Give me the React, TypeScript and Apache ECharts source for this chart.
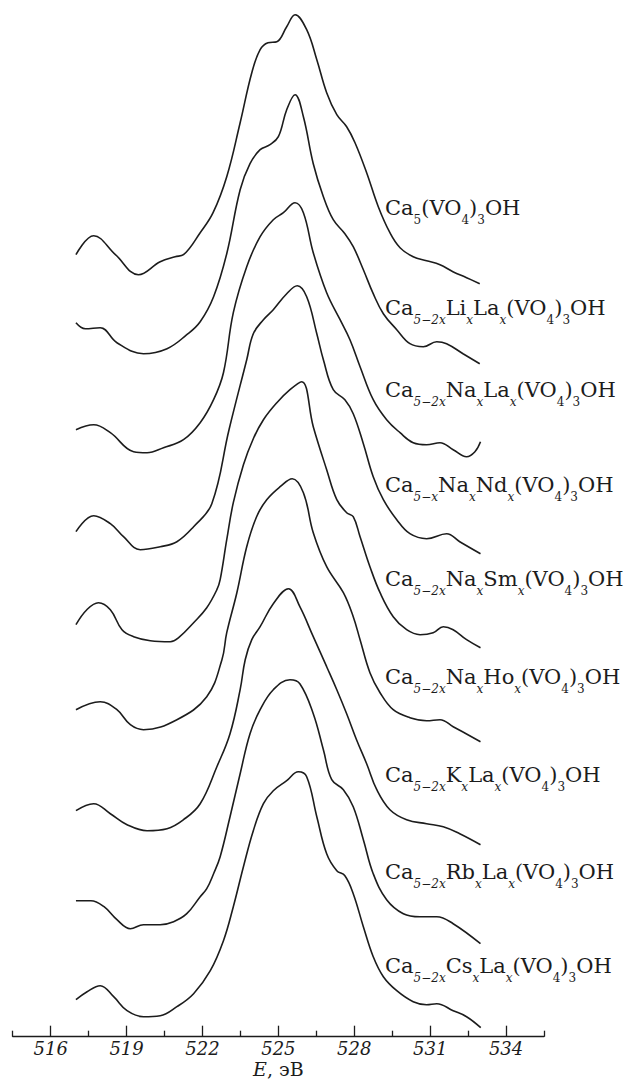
import { useEffect, useRef } from "react";
import * as echarts from "echarts";

// X-axis (energy, eV)
const MAJOR_TICKS = [516, 519, 522, 525, 528, 531, 534];
const MINOR_TICKS = [514.5, 517.5, 520.5, 523.5, 526.5, 529.5, 532.5, 535.5];

// Vertical offsets of the stacked spectra (same units as intensity)
const OFFSETS = [782, 714, 607, 505, 412, 327, 226, 136, 37];

// Spectra: [E (eV), relative intensity]
const S_CA5 = [
  [517.0, 0], [517.7, 19], [518.56, 0], [519.47, -20], [520.33, -7], [520.92, -2], [521.25, 0],
  [521.91, 22], [522.42, 42], [522.96, 78], [523.49, 132], [523.95, 182], [524.28, 205],
  [524.59, 212], [524.94, 213], [525.33, 228], [525.66, 240], [526.12, 225], [526.52, 195],
  [526.91, 162], [527.31, 140], [527.7, 128], [528.03, 112], [528.49, 82], [528.95, 48],
  [529.41, 22], [529.81, 7], [530.33, -2], [530.86, -6], [531.39, -10], [531.9, -17],
  [532.44, -23], [532.96, -29],
];
const S_LI_LA = [
  [517.0, 0], [517.37, -6], [517.96, -5], [518.62, -20], [519.67, -31], [520.6, -26], [521.38, -12],
  [521.91, 1], [522.44, 26], [522.96, 69], [523.49, 133], [523.88, 159], [524.28, 173],
  [524.67, 178], [525.0, 186], [525.33, 213], [525.66, 228], [525.99, 206], [526.38, 159],
  [526.78, 126], [527.17, 103], [527.63, 89], [527.96, 76], [528.36, 53], [528.75, 29],
  [529.15, 9], [529.68, -7], [530.2, -21], [530.73, -24], [531.26, -19], [531.65, -21],
  [532.3, -31], [532.96, -41],
];
const S_NA_LA = [
  [517.0, 0], [517.7, 5], [518.36, -3], [519.28, -22], [519.81, -23], [520.46, -18], [521.25, -10],
  [521.91, 7], [522.44, 30], [522.83, 57], [523.22, 117], [523.75, 163], [524.28, 193],
  [524.8, 210], [525.2, 217], [525.66, 227], [525.99, 217], [526.38, 177], [526.91, 137],
  [527.44, 110], [527.83, 90], [528.23, 63], [528.75, 30], [529.28, 10], [529.81, -3],
  [530.33, -13], [530.86, -15], [531.39, -13], [531.91, -20], [532.44, -27], [532.77, -22],
  [532.99, -12],
];
const S_NA_ND = [
  [517.0, 0], [517.7, 16], [518.36, 8], [518.88, -5], [519.54, -18], [520.33, -15], [520.99, -10],
  [521.65, 5], [522.37, 28], [523.05, 102], [523.75, 172], [524.01, 198], [524.41, 212],
  [524.8, 222], [525.33, 238], [525.75, 246], [526.12, 235], [526.52, 198], [526.78, 172],
  [527.17, 142], [527.63, 132], [527.96, 118], [528.36, 88], [528.75, 55], [529.15, 32],
  [529.68, 12], [530.2, -2], [530.86, -7], [531.65, -2], [532.17, -10], [532.99, -22],
];
const S_NA_SM = [
  [517.0, 0], [517.43, 15], [517.89, 22], [518.36, 15], [518.82, -5], [519.28, -12], [519.94, -16],
  [520.73, -17], [521.06, -13], [521.65, 2], [522.17, 17], [522.57, 35], [522.7, 45],
  [522.96, 85], [523.22, 122], [523.62, 160], [524.01, 186], [524.41, 205], [524.94, 222],
  [525.46, 235], [525.92, 243], [526.38, 198], [526.91, 155], [527.31, 125], [527.7, 112],
  [527.96, 108], [528.23, 88], [528.62, 58], [529.02, 32], [529.54, 8], [530.07, -5],
  [530.6, -10], [531.12, -8], [531.52, -2], [531.91, -5], [532.44, -15], [532.99, -23],
];
const S_NA_HO = [
  [517.0, 0], [517.96, 8], [518.62, 0], [519.15, -15], [519.67, -20], [520.99, -10], [522.17, 13],
  [522.77, 50], [522.96, 77], [523.36, 117], [523.75, 163], [524.14, 193], [524.54, 210],
  [525.07, 223], [525.55, 231], [525.99, 217], [526.38, 177], [526.91, 143], [527.57, 117],
  [527.96, 93], [528.23, 70], [528.62, 37], [529.02, 17], [529.54, 0], [530.2, -8],
  [530.86, -11], [531.39, -10], [531.91, -17], [532.99, -32],
];
const S_K_LA = [
  [517.0, 0], [517.7, 7], [518.36, -3], [519.02, -14], [519.81, -20], [520.6, -18], [521.25, -9],
  [521.91, 7], [522.57, 44], [523.09, 77], [523.49, 121], [523.69, 151], [523.95, 171],
  [524.28, 184], [524.8, 207], [525.4, 222], [525.85, 204], [526.38, 174], [526.91, 144],
  [527.31, 121], [527.7, 97], [528.09, 71], [528.49, 47], [528.89, 21], [529.41, 1],
  [530.07, -9], [530.86, -13], [531.52, -16], [532.17, -23], [532.99, -34],
];
const S_RB_LA = [
  [517.0, 0], [517.59, 0], [518.11, -6], [518.62, -19], [519.15, -28], [519.67, -24], [520.33, -24],
  [520.86, -21], [521.38, -13], [521.91, 4], [522.17, 12], [522.44, 27], [522.7, 44],
  [523.09, 84], [523.49, 127], [523.88, 167], [524.28, 191], [524.8, 211], [525.46, 221],
  [525.85, 217], [526.38, 187], [526.78, 151], [527.11, 121], [527.57, 111], [527.96, 94],
  [528.36, 61], [528.75, 27], [529.28, 1], [529.94, -13], [530.6, -16], [531.26, -16],
  [531.91, -23], [532.99, -43],
];
const S_CS_LA = [
  [517.0, 0], [517.44, 8], [517.96, 14], [518.49, 3], [519.02, -11], [519.67, -17], [520.33, -16],
  [520.99, -7], [521.65, 6], [522.31, 29], [522.83, 59], [523.22, 93], [523.62, 133],
  [524.01, 169], [524.41, 196], [524.8, 209], [525.33, 219], [525.79, 228], [526.12, 223],
  [526.52, 183], [526.91, 146], [527.31, 129], [527.63, 124], [527.96, 106], [528.36, 73],
  [528.75, 43], [529.15, 23], [529.68, 9], [530.33, -2], [530.86, -5], [531.26, -4],
  [531.91, -11], [532.44, -17], [533.0, -28],
];

const SPECTRA = [S_CA5, S_LI_LA, S_NA_LA, S_NA_ND, S_NA_SM, S_NA_HO, S_K_LA, S_RB_LA, S_CS_LA];

// Sample names (rich-text markup: m = main, d = upright subscript, i = italic subscript)
const NAMES = [
  "{m|Ca}{d|5}{m|(VO}{d|4}{m|)}{d|3}{m|OH}",
  "{m|Ca}{i|5−2x}{m|Li}{i|x}{m|La}{i|x}{m|(VO}{d|4}{m|)}{d|3}{m|OH}",
  "{m|Ca}{i|5−2x}{m|Na}{i|x}{m|La}{i|x}{m|(VO}{d|4}{m|)}{d|3}{m|OH}",
  "{m|Ca}{i|5−x}{m|Na}{i|x}{m|Nd}{i|x}{m|(VO}{d|4}{m|)}{d|3}{m|OH}",
  "{m|Ca}{i|5−2x}{m|Na}{i|x}{m|Sm}{i|x}{m|(VO}{d|4}{m|)}{d|3}{m|OH}",
  "{m|Ca}{i|5−2x}{m|Na}{i|x}{m|Ho}{i|x}{m|(VO}{d|4}{m|)}{d|3}{m|OH}",
  "{m|Ca}{i|5−2x}{m|K}{i|x}{m|La}{i|x}{m|(VO}{d|4}{m|)}{d|3}{m|OH}",
  "{m|Ca}{i|5−2x}{m|Rb}{i|x}{m|La}{i|x}{m|(VO}{d|4}{m|)}{d|3}{m|OH}",
  "{m|Ca}{i|5−2x}{m|Cs}{i|x}{m|La}{i|x}{m|(VO}{d|4}{m|)}{d|3}{m|OH}",
];

// layout: baseline of each name (px)
const NAME_BASELINES = [215, 315, 397, 492, 586, 684, 782, 879, 973];

const SERIF = "DejaVu Serif";
const INK = "#1c1c1c";

const RICH = {
  m: { fontFamily: SERIF, fontSize: 21, lineHeight: 36, fill: INK, color: INK },
  d: { fontFamily: SERIF, fontSize: 12, lineHeight: 12, verticalAlign: "bottom", fill: INK, color: INK },
  i: { fontFamily: SERIF, fontSize: 12, fontStyle: "italic", lineHeight: 12, verticalAlign: "bottom", fill: INK, color: INK },
};

export default function App() {
  const ref = useRef<HTMLDivElement>(null);
  useEffect(() => {
    if (!ref.current) return;
    const chart = echarts.init(ref.current, null, { renderer: "svg" });
    const series = SPECTRA.map((s, k) => ({
      type: "line",
      xAxisIndex: 0,
      data: s.map(([e, v]) => [e, v + OFFSETS[k]]),
      smooth: 0.4,
      showSymbol: false,
      symbol: "none",
      lineStyle: { color: INK, width: 1.6 },
      itemStyle: { color: INK },
      clip: false,
    }));
    chart.setOption({
      animation: false,
      backgroundColor: "#ffffff",
      grid: { left: 12.7, right: 87, top: 6.7, bottom: 42.3, containLabel: false, outerBoundsMode: "none" },
      xAxis: [
        {
          type: "value",
          min: 514.5,
          max: 535.5,
          interval: 1.5,
          position: "bottom",
          axisLine: { show: true, lineStyle: { color: INK, width: 1.3 } },
          axisTick: { show: true, inside: true, length: 11, customValues: MAJOR_TICKS, lineStyle: { color: INK, width: 1.3 } },
          axisLabel: {
            show: true,
            customValues: MAJOR_TICKS,
            margin: 3,
            fontFamily: SERIF,
            fontStyle: "italic",
            fontSize: 18,
            color: INK,
          },
          splitLine: { show: false },
          name: "{e|E}{r|, эВ}",
          nameLocation: "middle",
          nameGap: 22,
          nameMoveOverlap: false,
          nameTextStyle: {
            lineHeight: 20,
            rich: {
              e: { fontFamily: SERIF, fontStyle: "italic", fontSize: 19, lineHeight: 20, color: INK },
              r: { fontFamily: SERIF, fontSize: 19, lineHeight: 20, color: INK },
            },
          },
        },
        {
          type: "value",
          min: 514.5,
          max: 535.5,
          interval: 1.5,
          position: "bottom",
          axisLine: { show: false },
          axisTick: { show: true, inside: true, length: 6, customValues: MINOR_TICKS, lineStyle: { color: INK, width: 1.3 } },
          axisLabel: { show: false },
          splitLine: { show: false },
        },
      ],
      yAxis: { type: "value", min: 0, max: 1030, show: false },
      series,
      graphic: NAMES.map((t, k) => ({
        type: "text",
        x: 385,
        y: NAME_BASELINES[k] - 25.3,
        style: { text: t, rich: RICH, verticalAlign: "top", align: "left", fill: INK },
      })),
    });
    return () => chart.dispose();
  }, []);
  return <div ref={ref} style={{ position: "absolute", left: 0, top: 0, width: 631, height: 1079 }} />;
}
